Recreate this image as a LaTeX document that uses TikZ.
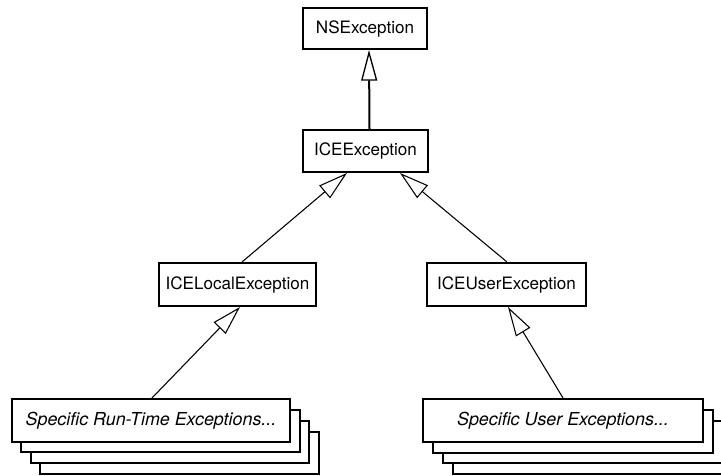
\documentclass[tikz,border=0pt]{standalone}
\usepackage{fontspec}
\setmainfont{TeX Gyre Heros}
\usetikzlibrary{arrows.meta,calc}
\begin{document}
\begin{tikzpicture}[x=0.75pt,y=-0.75pt,
  cls/.style={draw=black,line width=1.5pt,fill=white,inner sep=0pt,
    font=\fontsize{12.8pt}{14pt}\selectfont},
  itcls/.style={cls,font=\fontsize{13.4pt}{15pt}\selectfont\itshape},
  inh/.style={line width=0.8pt,-{Triangle[open,length=22pt,width=12.5pt,line width=0.8pt]}},
  inhthick/.style={line width=1.5pt,-{Triangle[open,length=23pt,width=12pt,line width=1pt]}},
  stackbox/.style={draw=black,line width=1.5pt,fill=white}]
\useasboundingbox (0,0) rectangle (721,475);
% stacked back boxes (left)
\draw[stackbox] (40,432) rectangle (319,474);
\draw[stackbox] (31,421) rectangle (309,463);
\draw[stackbox] (21,410) rectangle (300,452);
% stacked back boxes (right)
\draw[stackbox] (453,432) rectangle (735,474);
\draw[stackbox] (443,421) rectangle (725,463);
\draw[stackbox] (433,410) rectangle (713,453);
% nodes
\node[cls,minimum width=124*0.75pt,minimum height=41*0.75pt] (ns) at (365,28.5) {NSException};
\node[cls,minimum width=125*0.75pt,minimum height=42*0.75pt] (ice) at (365.5,151) {ICEException};
\node[cls,minimum width=157*0.75pt,minimum height=43*0.75pt] (local) at (237.5,284.5) {ICELocalException};
\node[cls,minimum width=159*0.75pt,minimum height=43*0.75pt] (user) at (506.5,284.5) {ICEUserException};
\node[itcls,minimum width=278*0.75pt,minimum height=43*0.75pt] (rt) at (151,420.5) {Specific Run-Time Exceptions...};
\node[itcls,minimum width=280*0.75pt,minimum height=43*0.75pt] (ue) at (563,420.5) {Specific User Exceptions...};
% connectors
\draw[inhthick] ($(ice.north)+(4,0)$) -- ($(ns.south)+(4,0)$);
\draw[inh] ($(local.north)+(4.5,0)$) -- ($(ice.south)+(-18.5,0)$);
\draw[inh] ($(user.north)+(0.5,0)$) -- ($(ice.south)+(34.5,0)$);
\draw[inh] ($(rt.north)+(1,0)$) -- ($(local.south)+(2.5,0)$);
\draw[inh] ($(ue.north)+(0,0)$) -- ($(user.south)+(1.5,0)$);
\end{tikzpicture}
\end{document}
